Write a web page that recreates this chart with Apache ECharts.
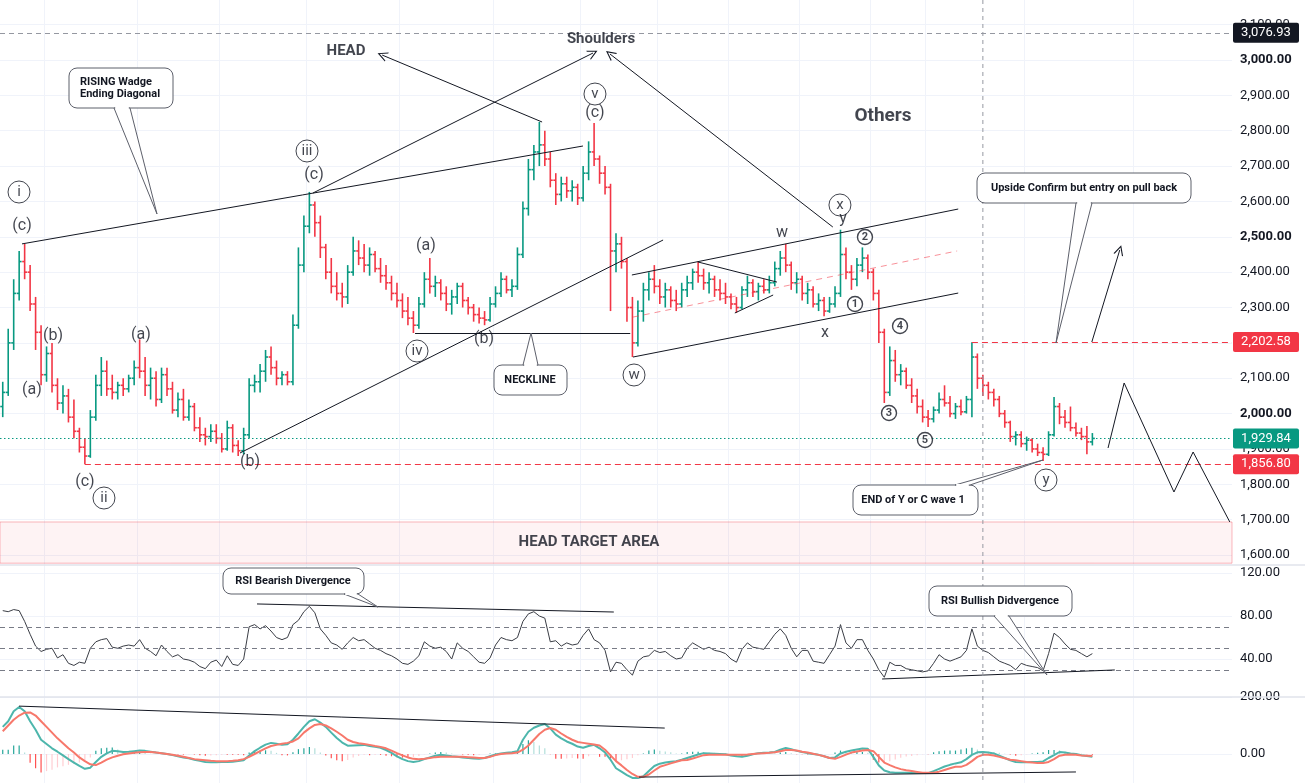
<!DOCTYPE html>
<html>
<head>
<meta charset="utf-8">
<script src="https://cdn.jsdelivr.net/npm/echarts@6/dist/echarts.min.js"></script>
<style>
html, body { margin: 0; padding: 0; background: #fff; }
#chart { width: 1305px; height: 783px; }
</style>
</head>
<body>
<div id="chart"></div>
<script>
// bars: [open, high, low, close], one per session
var ohlc = [
  [2020,2090,1990,2060],[2060,2240,2050,2200],[2200,2380,2180,2340],[2340,2460,2320,2430],[2430,2480,2380,2400],
  [2400,2420,2290,2310],[2310,2330,2180,2230],[2230,2250,2080,2110],[2110,2190,2090,2170],[2170,2200,2060,2080],
  [2080,2100,2010,2030],[2030,2080,2000,2050],[2050,2070,1975,1990],[1990,2040,1930,1950],[1950,1960,1890,1905],
  [1905,1930,1857,1880],[1880,2010,1875,1990],[1990,2110,1980,2080],[2080,2160,2050,2120],[2120,2150,2050,2070],
  [2070,2110,2040,2060],[2060,2090,2040,2080],[2080,2100,2050,2070],[2070,2110,2060,2100],[2100,2150,2080,2130],
  [2130,2210,2100,2120],[2120,2160,2050,2080],[2080,2130,2040,2100],[2100,2120,2020,2040],[2040,2130,2030,2110],
  [2110,2130,2050,2070],[2070,2090,2000,2010],[2010,2060,1990,2040],[2040,2070,1980,1990],[1990,2040,1980,2020],
  [2020,2030,1950,1960],[1960,1990,1920,1940],[1940,1960,1910,1935],[1935,1970,1920,1950],[1950,1970,1915,1930],
  [1930,1945,1890,1900],[1900,1980,1895,1960],[1960,1970,1890,1910],[1910,1925,1880,1895],[1895,1960,1885,1940],
  [1940,2100,1930,2080],[2080,2110,2060,2090],[2090,2140,2060,2120],[2120,2180,2090,2160],[2160,2190,2110,2130],
  [2130,2150,2080,2100],[2100,2120,2080,2110],[2110,2120,2080,2090],[2090,2280,2080,2250],[2250,2470,2240,2420],
  [2420,2560,2400,2530],[2530,2627,2510,2590],[2590,2600,2500,2540],[2540,2560,2440,2470],[2470,2480,2380,2400],
  [2400,2440,2340,2360],[2360,2400,2320,2340],[2340,2370,2300,2330],[2330,2420,2310,2400],[2400,2500,2390,2460],
  [2460,2490,2420,2440],[2440,2480,2400,2420],[2420,2470,2390,2450],[2450,2460,2400,2410],[2410,2440,2370,2390],
  [2390,2420,2350,2370],[2370,2390,2320,2340],[2340,2370,2300,2320],[2320,2340,2270,2290],[2290,2330,2250,2270],
  [2270,2290,2228,2250],[2250,2330,2240,2310],[2310,2400,2300,2380],[2380,2440,2340,2360],[2360,2390,2330,2370],
  [2370,2380,2320,2340],[2340,2360,2290,2310],[2310,2350,2280,2330],[2330,2370,2310,2360],[2360,2370,2300,2320],
  [2320,2330,2280,2300],[2300,2310,2260,2280],[2280,2300,2255,2270],[2270,2290,2250,2265],[2265,2330,2260,2310],
  [2310,2360,2300,2340],[2340,2400,2330,2380],[2380,2390,2340,2350],[2350,2380,2330,2360],[2360,2470,2350,2450],
  [2450,2600,2440,2580],[2580,2720,2560,2690],[2690,2760,2660,2740],[2740,2825,2700,2760],[2760,2800,2700,2720],
  [2720,2740,2640,2660],[2660,2680,2590,2620],[2620,2670,2600,2650],[2650,2670,2610,2630],[2630,2660,2600,2640],
  [2640,2650,2590,2610],[2610,2700,2600,2680],[2680,2770,2660,2740],[2740,2822,2700,2720],[2720,2730,2650,2680],
  [2680,2700,2620,2640],[2640,2650,2290,2460],[2460,2510,2400,2480],[2480,2500,2410,2430],[2430,2440,2260,2300],
  [2300,2330,2160,2200],[2200,2320,2190,2290],[2290,2370,2260,2350],[2350,2400,2320,2380],[2380,2420,2340,2360],
  [2360,2380,2310,2330],[2330,2370,2300,2350],[2350,2360,2300,2320],[2320,2350,2290,2310],[2310,2370,2300,2350],
  [2350,2390,2330,2370],[2370,2410,2350,2400],[2400,2430,2370,2390],[2390,2410,2350,2370],[2370,2400,2340,2380],
  [2380,2390,2330,2350],[2350,2380,2320,2340],[2340,2370,2310,2330],[2330,2340,2295,2310],[2310,2330,2285,2300],
  [2300,2360,2295,2350],[2350,2390,2330,2370],[2370,2380,2330,2345],[2345,2370,2320,2360],[2360,2380,2340,2350],
  [2350,2390,2340,2370],[2370,2430,2360,2410],[2410,2460,2390,2440],[2440,2480,2400,2420],[2420,2430,2350,2370],
  [2370,2400,2340,2380],[2380,2390,2320,2340],[2340,2370,2310,2350],[2350,2360,2300,2310],[2310,2340,2290,2320],
  [2320,2330,2275,2290],[2290,2330,2285,2310],[2310,2360,2300,2340],[2340,2520,2330,2450],[2450,2470,2380,2400],
  [2400,2420,2350,2380],[2380,2440,2360,2420],[2420,2470,2400,2440],[2440,2450,2380,2400],[2400,2410,2320,2340],
  [2340,2350,2200,2230],[2230,2240,2030,2060],[2060,2190,2050,2150],[2150,2180,2090,2110],[2110,2140,2080,2120],
  [2120,2130,2070,2080],[2080,2100,2030,2050],[2050,2070,2000,2020],[2020,2040,1975,1990],[1990,2010,1962,1985],
  [1985,2020,1975,2010],[2010,2060,2000,2040],[2040,2080,2020,2030],[2030,2050,1990,2000],[2000,2030,1985,2020],
  [2020,2040,1995,2005],[2005,2050,2000,2040],[2040,2202,1990,2160],[2160,2170,2070,2100],[2100,2110,2050,2080],
  [2080,2090,2040,2060],[2060,2070,2020,2040],[2040,2050,1990,2000],[2000,2010,1960,1975],[1975,1980,1920,1935],
  [1935,1950,1910,1940],[1940,1950,1905,1915],[1915,1935,1895,1925],[1925,1930,1890,1900],[1900,1915,1880,1890],
  [1890,1905,1866,1885],[1885,1950,1880,1940],[1940,2047,1935,2020],[2020,2030,1970,1990],[1990,2010,1960,1975],
  [1975,2020,1950,1960],[1960,1975,1935,1945],[1945,1960,1925,1935],[1935,1965,1885,1920],[1920,1945,1910,1929.84]
];

var rsi = [
  85,84,86,85,75,63,52,47,49,50, 41,44,36,34,37,36,50,56,58,59,
  51,50,52,53,52,58,50,47,43,53, 47,42,44,40,39,37,33,31,37,39,
  33,43,35,34,40,70,72,68,71,66, 60,58,60,72,76,84,89,83,68,62,
  55,53,49,55,60,57,58,54,50,48, 45,43,40,36,35,38,43,56,52,50,
  51,47,40,55,50,47,42,37,36,41, 53,60,58,57,60,75,82,84,80,78,
  56,57,52,55,53,54,62,68,58,55, 48,28,37,36,30,25,38,42,43,48,
  46,47,43,40,41,50,55,52,49,51, 48,47,45,40,37,49,55,51,50,49,
  56,63,68,62,50,42,48,48,38,37, 36,44,52,72,55,50,58,58,48,40,
  30,23,37,34,34,31,30,29,28,29, 36,44,40,38,40,42,48,68,52,48,
  46,42,38,36,34,30,36,34,33,32, 29,45,64,60,54,49,48,45,42,45
];

var macd = [
  95,115,150,165,150,115,85,50,35,20, 8,-5,-18,-30,-42,-52,-48,-28,-10,2,
  11,10,7,8,10,12,11,8,5,3, 0,-4,-8,-12,-15,-20,-24,-28,-29,-29,
  -28,-28,-27,-25,-22,-5,10,22,33,39, 36,32,34,50,72,95,115,122,110,95,
  75,56,40,29,30,31,32,28,25,22, 14,4,-8,-18,-25,-28,-25,-18,-12,-6,
  -3,-5,-8,-10,-12,-14,-16,-17,-14,-8, -2,2,4,6,10,50,78,92,100,105,
  90,68,55,44,36,26,22,28,32,20, 5,-20,-50,-62,-74,-84,-84,-78,-60,-42,
  -34,-30,-27,-25,-20,-14,-8,-2,3,2, 1,0,-1,-5,-8,-10,-6,-1,3,4,
  5,7,15,21,17,11,7,3,0,-3, -8,-14,-12,2,8,12,16,19,18,-10,
  -40,-58,-64,-66,-66,-66,-67,-67,-67,-67, -60,-52,-44,-38,-33,-29,-18,-3,6,7,
  5,2,-6,-14,-22,-28,-29,-29,-28,-28, -26,-14,-4,7,5,2,0,-4,-7,-10
];

var signal = [
  80,100,120,135,145,146,135,115,95,75, 55,38,20,5,-12,-25,-36,-39,-30,-20,
  -12,-6,-1,2,4,6,7,7,5,3, 0,-3,-6,-10,-14,-18,-20,-22,-24,-25,
  -25,-25,-24,-22,-18,-10,0,10,20,28, 32,36,39,44,55,75,90,102,105,100,
  90,78,65,50,42,38,35,32,28,25, 20,12,3,-5,-12,-17,-18,-17,-14,-11,
  -10,-10,-10,-10,-10,-11,-12,-14,-14,-10, -4,0,2,3,5,15,30,50,70,85,
  91,85,72,60,50,42,39,36,33,30, 15,-5,-25,-40,-56,-70,-80,-80,-72,-58,
  -45,-39,-33,-27,-22,-21,-16,-10,-4,-3, -3,-3,-3,-3,-3,-3,-2,0,2,3,
  4,6,10,14,14,12,8,5,1,-3, -8,-14,-17,-10,-2,5,9,12,14,10,
  -10,-30,-39,-47,-53,-57,-60,-63,-66,-66, -66,-62,-56,-50,-45,-45,-38,-25,-10,-3,
  -3,-5,-10,-15,-20,-22,-25,-28,-30,-32, -32,-28,-18,-6,-3,-2,-3,-5,-6,-7
];

var majorTicks = [2000, 2500, 3000];
var rsiBands = [70, 50, 30];
// price tags on the right scale: [price, colour]
var priceTags = [[3076.93, '#131722'], [2202.58, '#f23645'], [1929.84, '#089981'], [1856.80, '#f23645']];
var vGrid = [7.5, 24.5, 39.5, 55.5, 72.5, 89.5, 105.5, 119.5, 132.5, 145.5, 158.5, 168.5, 186.5, 206.5];
var cursorBar = 179;

// drawings, in [bar, price]
var trendLines = [
  [[3.52, 2480], [105.97, 2756.8]],
  [[43.33, 1888.6], [120.6, 2490.9]],
  [[75.3, 2228], [114.6, 2228]],
  [[114.9, 2392], [174.5, 2578.6]],
  [[115.1, 2160], [174.5, 2341]],
  [[127, 2428.7], [141.4, 2372]],
  [[133.7, 2284.5], [140.7, 2335.4]]
];
var arrowLines = [
  [[56.66, 2623.9], [107.8, 3019.8]],
  [[98.5, 2824.7], [69.3, 3014]],
  [[151.6, 2527.7], [110.9, 3017]],
  [[198.9, 2202.5], [204.0, 2462.7]]
];
var projection = [[201.86, 1902.7], [204.8, 2086.6], [213.9, 1778.3], [217.4, 1891.4], [224.1, 1693.5]];
var midChannel = [[115.1, 2273], [174.3, 2460]];
var redLevels = [[15.0, 1856.8], [177, 2202.58]];
var targetZone = [1577, 1693.5];

var circled = [
  [2.97, 2626.7, 'i'], [18.49, 1761.3, 'ii'], [55.57, 2742.7, 'iii'], [75.66, 2177, 'iv'],
  [108.16, 2903.8, 'v'], [115.29, 2109.2, 'w'], [152.9, 2590, 'x'], [190.53, 1812.2, 'y']
];
var smallCircled = [
  [155.65, 2310, '1'], [157.47, 2499.4, '2'], [161.86, 2001.7, '3'], [163.87, 2247.8, '4'], [168.43, 1925.4, '5']
];
var plainLabels = [
  [3.52, 2530.5, '(c)'], [9.18, 2219.5, '(b)'], [5.34, 2066.8, '(a)'], [15.02, 1806.6, '(c)'],
  [25.25, 2222.3, '(a)'], [45.16, 1863.3, '(b)'], [56.85, 2674.8, '(c)'], [77.3, 2474, '(a)'],
  [87.9, 2211, '(b)'], [108.16, 2850, '(c)'], [142.3, 2510.8, 'w'], [153.46, 2550.3, 'y'], [150.17, 2228, 'x']
];
var boldLabels = [
  [62.69, 3025.5, 'HEAD'], [109.26, 3059.4, 'Shoulders'], [160.76, 2841.6, 'Others'], [107.07, 1636.9, 'HEAD TARGET AREA']
];

var rsiDiv = [[[46.44, 91.2], [111.6, 83.7]], [[160.6, 21.4], [203.1, 29.8]]];
var macdDiv = [[[2.97, 168], [120.9, 91]], [[116.2, -81], [196, -63]]];

var UP = '#089981', DOWN = '#f23645', INK = '#131722', GRID = '#f0f3fa';
var FONT = 'Roboto, "Noto Sans", sans-serif';
var ARROW = 'path://M0,10L5,0L10,10L8.8,10L5,2.4L1.2,10Z';

function fmt(v) {
  return v.toLocaleString('en-US', {minimumFractionDigits: 2, maximumFractionDigits: 2});
}
function segs(list) {
  return list.map(function (s) { return {coords: s}; });
}

var chart = echarts.init(document.getElementById('chart'));

var barData = ohlc.map(function (d, i) { return [i, d[0], d[1], d[2], d[3]]; });

var histData = macd.map(function (m, i) {
  var h = m - signal[i];
  var prev = i > 0 ? macd[i - 1] - signal[i - 1] : h;
  var col;
  if (h >= 0) col = h >= prev ? '#26a69a' : '#b2dfdb';
  else col = h <= prev ? '#ff5252' : '#ffcdd2';
  return {value: [i, h], itemStyle: {color: col}};
});

function xAxisFor(g) {
  return {type: 'value', gridIndex: g, min: -0.5, max: 224.5, show: false};
}

function gridSeries(g, y0, y1) {
  return {
    type: 'lines', coordinateSystem: 'cartesian2d', xAxisIndex: g, yAxisIndex: g,
    silent: true, z: 0,
    lineStyle: {color: GRID, width: 1, opacity: 1},
    data: vGrid.map(function (v) { return {coords: [[v, y0], [v, y1]]}; })
  };
}

var labelAxisStyle = {color: INK, fontSize: 13, fontFamily: FONT, margin: 8};

var option = {
  animation: false,
  backgroundColor: '#fff',
  grid: [
    {left: 0, right: 73, top: -10.7, height: 601.1, outerBoundsMode: 'none', containLabel: false},
    {left: 0, right: 73, top: 573, height: 129, outerBoundsMode: 'none', containLabel: false},
    {left: 0, right: 73, top: 697, height: 114, outerBoundsMode: 'none', containLabel: false}
  ],
  xAxis: [xAxisFor(0), xAxisFor(1), xAxisFor(2)],
  yAxis: [
    {
      type: 'value', gridIndex: 0, position: 'right', min: 1500, max: 3200, interval: 100,
      axisLine: {show: false}, axisTick: {show: false},
      splitLine: {show: true, showMinLine: false, showMaxLine: false, lineStyle: {color: GRID}},
      axisLabel: {
        color: INK, fontSize: 13, fontFamily: FONT, margin: 8,
        showMinLabel: false, showMaxLabel: false,
        formatter: function (v) {
          var s = fmt(v);
          return majorTicks.indexOf(v) >= 0 ? '{b|' + s + '}' : s;
        },
        rich: {b: {fontWeight: 'bold', fontSize: 13, color: INK, fontFamily: FONT}}
      }
    },
    {
      type: 'value', gridIndex: 1, position: 'right', min: 0, max: 120, interval: 40,
      axisLine: {show: false}, axisTick: {show: false},
      splitLine: {show: true, showMinLine: false, lineStyle: {color: GRID}},
      axisLabel: Object.assign({showMinLabel: false, formatter: fmt}, labelAxisStyle)
    },
    {
      type: 'value', gridIndex: 2, position: 'right', min: -200, max: 200, interval: 200,
      axisLine: {show: false}, axisTick: {show: false},
      splitLine: {show: true, showMinLine: false, lineStyle: {color: GRID}},
      axisLabel: Object.assign({showMinLabel: false, formatter: fmt}, labelAxisStyle)
    }
  ],
  series: [
    gridSeries(0, 1500, 3200),
    gridSeries(1, 0, 120),
    gridSeries(2, -200, 200),
    {
      // target zone
      type: 'line', xAxisIndex: 0, yAxisIndex: 0, data: [], silent: true, z: 1,
      markArea: {
        silent: true,
        itemStyle: {color: 'rgba(242,54,69,0.06)', borderColor: 'rgba(242,54,69,0.35)', borderWidth: 1},
        data: [[{xAxis: -0.5, yAxis: targetZone[0]}, {xAxis: 224.5, yAxis: targetZone[1]}]]
      }
    },
    {
      type: 'custom', xAxisIndex: 0, yAxisIndex: 0, z: 2, silent: true,
      data: barData,
      encode: {x: 0, y: [1, 2, 3, 4]},
      renderItem: function (params, api) {
        var i = api.value(0);
        var o = api.coord([i, api.value(1)]);
        var h = api.coord([i, api.value(2)]);
        var l = api.coord([i, api.value(3)]);
        var c = api.coord([i, api.value(4)]);
        var w = api.size([1, 0])[0] * 0.45;
        var col = api.value(4) >= api.value(1) ? UP : DOWN;
        var st = {stroke: col, lineWidth: 1.6};
        return {
          type: 'group',
          children: [
            {type: 'line', shape: {x1: h[0], y1: h[1], x2: l[0], y2: l[1]}, style: st},
            {type: 'line', shape: {x1: o[0] - w, y1: o[1], x2: o[0], y2: o[1]}, style: st},
            {type: 'line', shape: {x1: c[0], y1: c[1], x2: c[0] + w, y2: c[1]}, style: st}
          ]
        };
      }
    },
    // horizontal levels
    {
      type: 'lines', coordinateSystem: 'cartesian2d', xAxisIndex: 0, yAxisIndex: 0, silent: true, z: 3,
      lineStyle: {color: '#9598a1', width: 1, type: [5, 4], opacity: 1},
      data: [{coords: [[-0.5, 3076.93], [224.5, 3076.93]]}]
    },
    {
      type: 'lines', coordinateSystem: 'cartesian2d', xAxisIndex: 0, yAxisIndex: 0, silent: true, z: 3,
      lineStyle: {color: UP, width: 1.2, type: [1.5, 2.5], opacity: 1},
      data: [{coords: [[-0.5, 1929.84], [224.5, 1929.84]]}]
    },
    {
      type: 'lines', coordinateSystem: 'cartesian2d', xAxisIndex: 0, yAxisIndex: 0, silent: true, z: 3,
      lineStyle: {color: DOWN, width: 1, type: [6, 4], opacity: 1},
      data: redLevels.map(function (r) { return {coords: [[r[0], r[1]], [224.5, r[1]]]}; })
    },
    {
      type: 'lines', coordinateSystem: 'cartesian2d', xAxisIndex: 0, yAxisIndex: 0, silent: true, z: 3,
      lineStyle: {color: 'rgba(242,54,69,0.55)', width: 1, type: [6, 5], opacity: 1},
      data: [{coords: midChannel}]
    },
    // drawings
    {
      type: 'lines', coordinateSystem: 'cartesian2d', xAxisIndex: 0, yAxisIndex: 0, silent: true, z: 5,
      lineStyle: {color: INK, width: 1, opacity: 1},
      data: segs(trendLines)
    },
    {
      type: 'lines', coordinateSystem: 'cartesian2d', xAxisIndex: 0, yAxisIndex: 0, silent: true, z: 5,
      symbol: ['none', ARROW], symbolSize: 10,
      lineStyle: {color: INK, width: 1, opacity: 1},
      data: segs(arrowLines)
    },
    {
      type: 'lines', coordinateSystem: 'cartesian2d', xAxisIndex: 0, yAxisIndex: 0, silent: true, z: 5,
      polyline: true, symbol: ['none', ARROW], symbolSize: 10,
      lineStyle: {color: INK, width: 1, opacity: 1},
      data: [{coords: projection}]
    },
    // labels
    {
      type: 'scatter', xAxisIndex: 0, yAxisIndex: 0, silent: true, z: 10,
      symbolSize: 1, itemStyle: {color: 'rgba(0,0,0,0)'},
      label: {show: true, position: 'inside', color: INK, fontSize: 16, fontFamily: FONT,
        formatter: function (p) { return p.value[2]; }},
      data: plainLabels
    },
    {
      type: 'scatter', xAxisIndex: 0, yAxisIndex: 0, silent: true, z: 10,
      symbol: 'circle', symbolSize: 22,
      itemStyle: {color: '#fff', borderColor: INK, borderWidth: 1},
      label: {show: true, position: 'inside', color: INK, fontSize: 15, fontFamily: FONT,
        formatter: function (p) { return p.value[2]; }},
      data: circled
    },
    {
      type: 'scatter', xAxisIndex: 0, yAxisIndex: 0, silent: true, z: 10,
      symbol: 'circle', symbolSize: 15,
      itemStyle: {color: '#fff', borderColor: INK, borderWidth: 1.4},
      label: {show: true, position: 'inside', color: INK, fontSize: 11, fontWeight: 'bold', fontFamily: FONT,
        formatter: function (p) { return p.value[2]; }},
      data: smallCircled
    },
    {
      type: 'scatter', xAxisIndex: 0, yAxisIndex: 0, silent: true, z: 10,
      symbolSize: 1, itemStyle: {color: 'rgba(0,0,0,0)'},
      label: {show: true, position: 'inside', color: INK, fontWeight: 'bold', fontFamily: FONT,
        formatter: function (p) { return p.value[2]; }},
      data: boldLabels.map(function (b) {
        return {value: b, label: {fontSize: b[2] === 'Others' ? 19 : 15}};
      })
    },
    // RSI pane
    {
      type: 'line', xAxisIndex: 1, yAxisIndex: 1, silent: true, z: 3,
      showSymbol: false, lineStyle: {color: '#3a3d45', width: 1},
      data: rsi.map(function (v, i) { return [i, v]; }),
      markLine: {
        silent: true, symbol: 'none', label: {show: false},
        lineStyle: {color: '#787b86', type: [5, 4], width: 1},
        data: rsiBands.map(function (b) { return {yAxis: b}; })
      }
    },
    {
      type: 'lines', coordinateSystem: 'cartesian2d', xAxisIndex: 1, yAxisIndex: 1, silent: true, z: 5,
      lineStyle: {color: INK, width: 1, opacity: 1},
      data: segs(rsiDiv)
    },
    // MACD pane
    {
      type: 'bar', xAxisIndex: 2, yAxisIndex: 2, silent: true, z: 2,
      barWidth: 1.2, data: histData
    },
    {
      type: 'line', xAxisIndex: 2, yAxisIndex: 2, silent: true, z: 3,
      showSymbol: false, lineStyle: {color: '#4db6ac', width: 2},
      data: macd.map(function (v, i) { return [i, v]; })
    },
    {
      type: 'line', xAxisIndex: 2, yAxisIndex: 2, silent: true, z: 3,
      showSymbol: false, lineStyle: {color: '#f7786b', width: 2},
      data: signal.map(function (v, i) { return [i, v]; })
    },
    {
      type: 'lines', coordinateSystem: 'cartesian2d', xAxisIndex: 2, yAxisIndex: 2, silent: true, z: 5,
      lineStyle: {color: INK, width: 1, opacity: 1},
      data: segs(macdDiv)
    }
  ]
};

chart.setOption(option);

// callout boxes with pointer tails, in screen pixels
function callout(box, b1, b2, tip, text, tx, ty, align) {
  var stroke = '#5d606b';
  return [
    {type: 'rect', z: 100, shape: {x: box[0], y: box[1], width: box[2], height: box[3], r: 8},
      style: {fill: '#fff', stroke: stroke, lineWidth: 1}},
    {type: 'polygon', z: 101, shape: {points: [b1, tip, b2]},
      style: {fill: '#fff', stroke: stroke, lineWidth: 1}},
    {type: 'line', z: 102, shape: {x1: b1[0] + 1.2, y1: b1[1], x2: b2[0] - 1.2, y2: b2[1]},
      style: {stroke: '#fff', lineWidth: 2}},
    {type: 'text', z: 103, style: {text: text, x: tx, y: ty, fill: INK, align: align || 'center',
      verticalAlign: 'middle', fontSize: 11, fontWeight: 'bold', fontFamily: FONT, lineHeight: 12}}
  ];
}

var graphics = [];
graphics = graphics.concat(
  callout([69, 68, 104, 40], [114, 108], [130, 108], [157, 214], 'RISING Wadge\nEnding Diagonal', 80, 88, 'left'),
  callout([494, 365, 73, 30], [523, 365], [538, 365], [531, 333], 'NECKLINE', 530, 380),
  callout([977, 173, 214, 30], [1076, 203], [1092, 203], [1056, 343], 'Upside Confirm but entry on pull back', 1084, 188),
  callout([853, 485, 125, 30], [955, 485], [970, 485], [1043, 460], 'END of Y or C wave 1', 913, 500),
  callout([223, 568, 141, 26], [344, 594], [358, 594], [378, 607], 'RSI Bearish Divergence', 293, 581),
  callout([929, 586, 143, 30], [994, 616], [1009, 616], [1047, 675], 'RSI Bullish Didvergence', 1000, 601)
);

// pane separators
[565, 697].forEach(function (y) {
  graphics.push({type: 'line', z: 50, shape: {x1: 0, y1: y, x2: 1305, y2: y},
    style: {stroke: '#e0e3eb', lineWidth: 1.5}});
});

// vertical marker through all panes
var cx = chart.convertToPixel({xAxisIndex: 0}, cursorBar);
graphics.push({type: 'line', z: 60, shape: {x1: cx, y1: 0, x2: cx, y2: 783},
  style: {stroke: '#9598a1', lineWidth: 1, lineDash: [4, 4]}});

// price tags on the scale
priceTags.forEach(function (t) {
  var y = chart.convertToPixel({yAxisIndex: 0}, t[0]);
  graphics.push({type: 'rect', z: 120, shape: {x: 1233, y: y - 10, width: 66, height: 20, r: 2},
    style: {fill: t[1]}});
  graphics.push({type: 'text', z: 121, style: {text: fmt(t[0]), x: 1266, y: y, fill: '#fff',
    align: 'center', verticalAlign: 'middle', fontSize: 13, fontFamily: FONT}});
});

chart.setOption({graphic: graphics});
</script>
</body>
</html>
